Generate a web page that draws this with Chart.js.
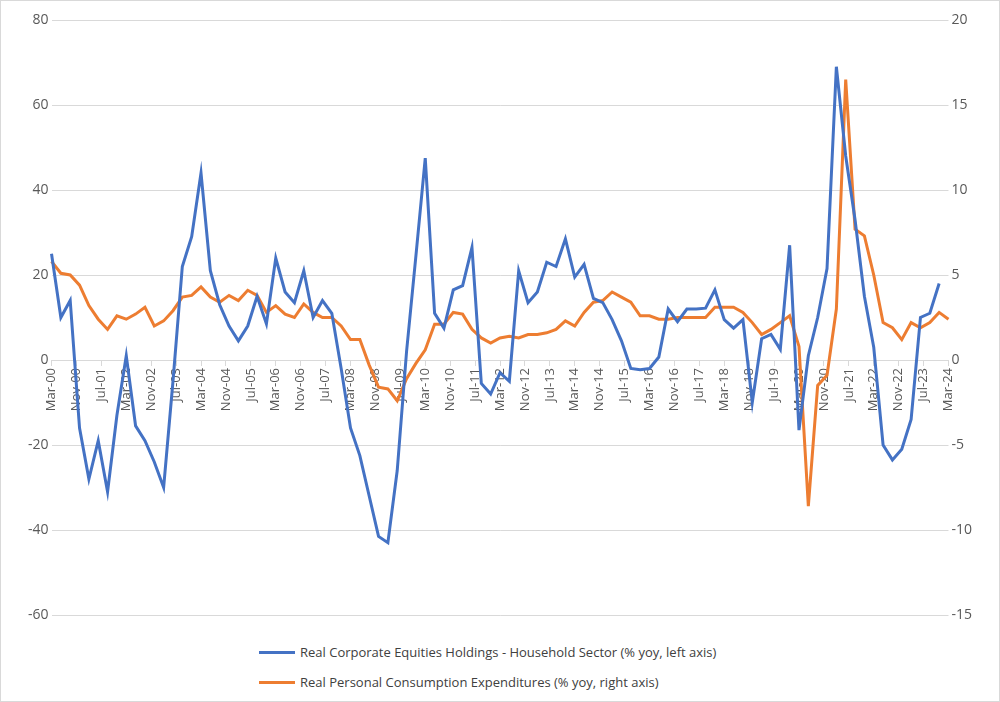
<!DOCTYPE html>
<html>
<head>
<meta charset="utf-8">
<script src="https://cdn.jsdelivr.net/npm/chart.js@4"></script>
<style>
    html, body { margin: 0; padding: 0; background: #fff; }
    #wrap { width: 998px; height: 700px; border: 1px solid #d9d9d9; position: relative; }
    #box { width: 998px; height: 628px; }
    #legend { position: absolute; left: 258px; top: 636px; font: 13px 'Open Sans', sans-serif; color: #404040; }
    #legend div { display: flex; align-items: center; height: 30px; }
    #legend span.key { display: inline-block; width: 36px; height: 3px; margin-right: 5px; }
</style>
</head>
<body>
<div id="wrap">
    <div id="box"><canvas id="chart"></canvas></div>
    <div id="legend"></div>
</div>
<script>
const months = ["Jan", "Feb", "Mar", "Apr", "May", "Jun", "Jul", "Aug", "Sep", "Oct", "Nov", "Dec"]

// quarterly readings, Mar-00 .. Mar-24
const equities = [
    25, 10, 14, -16, -28, -19, -31, -13, 1, -15.5, -19, -24, -30, -5, 22, 29,
    44, 21, 13, 8, 4.5, 8, 15, 8.5, 24, 16, 13.5, 21, 10, 14, 11, -2,
    -16, -22.5, -32, -41.5, -43, -26, 2, 24.5, 47.5, 11, 7.5, 16.5, 17.5, 26.5, -5.5, -8,
    -3, -5, 21, 13.5, 16, 23, 22, 28.5, 19.5, 22.5, 14.5, 13.5, 9.5, 4.5, -2, -2.3,
    -2, 0.7, 12, 9, 12, 12, 12.2, 16.5, 9.5, 7.5, 9.5, -10, 5, 6, 2.5, 27,
    -16.5, 1, 10, 21.5, 69, 48, 33, 15, 3, -20, -23.5, -21, -14, 10, 11, 18,
]
const consumption = [
    5.8, 5.1, 5.0, 4.4, 3.2, 2.4, 1.8, 2.6, 2.4, 2.7, 3.1, 2.0, 2.3, 2.9, 3.7, 3.8,
    4.3, 3.7, 3.4, 3.8, 3.5, 4.1, 3.8, 2.8, 3.2, 2.7, 2.5, 3.3, 2.8, 2.5, 2.5, 2.0,
    1.2, 1.2, -0.3, -1.6, -1.7, -2.4, -1.1, -0.2, 0.6, 2.1, 2.1, 2.8, 2.7, 1.8, 1.3, 1.0,
    1.3, 1.4, 1.3, 1.5, 1.5, 1.6, 1.8, 2.3, 2.0, 2.8, 3.4, 3.5, 4.0, 3.7, 3.4, 2.6,
    2.6, 2.4, 2.4, 2.5, 2.5, 2.5, 2.5, 3.1, 3.1, 3.1, 2.8, 2.2, 1.5, 1.8, 2.2, 2.6,
    0.8, -8.6, -1.5, -0.9, 3.0, 16.5, 7.7, 7.3, 5.0, 2.2, 1.9, 1.2, 2.2, 1.9, 2.2, 2.8,
    2.4,
]

// monthly category axis so ticks can fall every 8 months like the original
const labels = []
for (let m = 0; m <= 288; m++) {
    const mi = (2 + m) % 12
    const yr = 2000 + Math.floor((2 + m) / 12)
    labels.push(months[mi] + "-" + String(yr % 100).padStart(2, "0"))
}
const toMonthly = quarterly => labels.map((_, i) => (i % 3 == 0 ? quarterly[i / 3] ?? null : null))

const axisColor = "#595959"
const gridColor = "#d9d9d9"

const chart = new Chart(document.getElementById("chart"), {
    type: "line",
    data: {
        labels,
        datasets: [
            {
                label: "Real Corporate Equities Holdings - Household Sector (% yoy, left axis)",
                data: toMonthly(equities),
                borderColor: "#4472c4",
                borderWidth: 3,
                pointRadius: 0,
                spanGaps: true,
                yAxisID: "y",
            },
            {
                label: "Real Personal Consumption Expenditures (% yoy, right axis)",
                data: toMonthly(consumption),
                borderColor: "#ed7d31",
                borderWidth: 3,
                pointRadius: 0,
                spanGaps: true,
                yAxisID: "y1",
            },
        ],
    },
    options: {
        responsive: true,
        maintainAspectRatio: false,
        animation: false,
        layout: { padding: { top: 19, right: 24, left: 24, bottom: 14 } },
        plugins: {
            tooltip: { enabled: false },
            legend: { display: false },
        },
        scales: {
            x: {
                position: { y: 0 },
                afterBuildTicks: axis => {
                    axis.ticks = axis.ticks.filter(t => t.value % 8 == 0)
                },
                ticks: {
                    autoSkip: false,
                    minRotation: 90,
                    maxRotation: 90,
                    color: axisColor,
                    font: { family: "'Open Sans', sans-serif", size: 13 },
                },
                grid: { drawOnChartArea: false, tickLength: 5, color: gridColor },
                border: { color: gridColor },
            },
            y: {
                position: "left",
                min: -60,
                max: 80,
                ticks: {
                    stepSize: 20,
                    color: axisColor,
                    font: { family: "'Open Sans', sans-serif", size: 14 },
                },
                grid: { color: gridColor, drawTicks: false },
                border: { display: false },
            },
            y1: {
                position: "right",
                min: -15,
                max: 20,
                ticks: {
                    stepSize: 5,
                    color: axisColor,
                    font: { family: "'Open Sans', sans-serif", size: 14 },
                },
                grid: { drawOnChartArea: false, drawTicks: false },
                border: { display: false },
            },
        },
    },
})

// two-row legend like the original
const legend = document.getElementById("legend")
chart.data.datasets.forEach(ds => {
    const row = document.createElement("div")
    row.innerHTML = `<span class="key" style="background:${ds.borderColor}"></span>${ds.label}`
    legend.append(row)
})
</script>
</body>
</html>
